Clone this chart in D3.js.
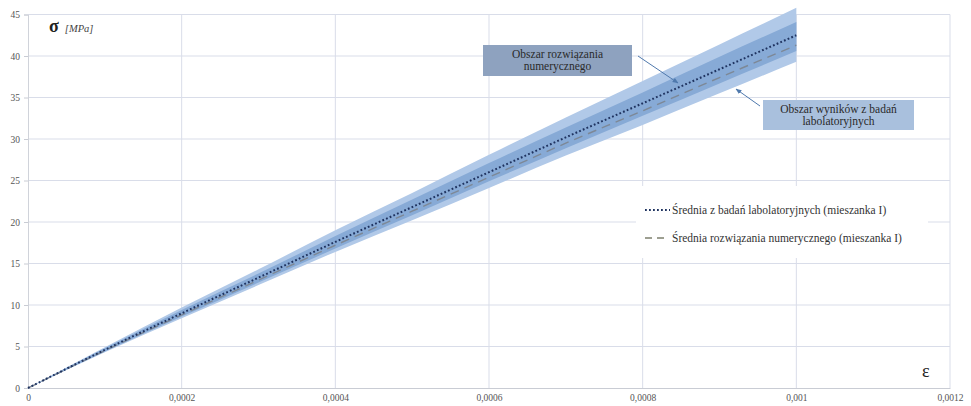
<!DOCTYPE html>
<html>
<head>
<meta charset="utf-8">
<script src="https://cdn.jsdelivr.net/npm/d3@7"></script>
<style>
  html, body { margin: 0; padding: 0; background: #fff; }
  svg { display: block; }
</style>
</head>
<body>
<svg id="chart" width="971" height="406"></svg>
<script>
// Strain values (ε) and stresses (σ, MPa)
const strain      = [0, 0.0001, 0.0002, 0.0003, 0.0004, 0.0005, 0.0006, 0.0007, 0.0008, 0.0009, 0.001];
const labMean     = [0, 4.6, 9.0, 13.3, 17.6, 21.8, 26.0, 30.2, 34.3, 38.4, 42.5];
const numMean     = [0, 4.5, 8.8, 13.0, 17.2, 21.3, 25.4, 29.5, 33.4, 37.4, 41.3];
const labUpper    = [0, 4.9, 9.7, 14.3, 19.0, 23.5, 28.1, 32.6, 37.0, 41.4, 45.8];
const labLower    = [0, 4.3, 8.4, 12.4, 16.4, 20.2, 24.1, 28.0, 31.7, 35.5, 39.3];
const numUpper    = [0, 4.8, 9.4, 13.8, 18.3, 22.7, 27.1, 31.4, 35.6, 39.9, 44.1];
const numLower    = [0, 4.4, 8.6, 12.7, 16.8, 20.8, 24.9, 28.9, 32.8, 36.7, 40.6];

const xTicks = [0, 0.0002, 0.0004, 0.0006, 0.0008, 0.001, 0.0012];
const yTicks = [0, 5, 10, 15, 20, 25, 30, 35, 40, 45];

const legendLabels = [
  "Średnia z badań labolatoryjnych (mieszanka I)",
  "Średnia rozwiązania numerycznego (mieszanka I)"
];
const noteNumeric = ["Obszar rozwiązania", "numerycznego"];
const noteLab = ["Obszar wyników z badań", "labolatoryjnych"];

const SERIF = "'Liberation Serif', 'Times New Roman', 'DejaVu Serif', serif";

const svg = d3.select("#chart").style("font-family", SERIF);
const m = { left: 28, right: 950, top: 14.5, bottom: 388 };

const x = d3.scaleLinear().domain([0, 0.0012]).range([m.left, m.right]);
const y = d3.scaleLinear().domain([0, 45]).range([m.bottom, m.top]);

const gridColor = "#d9dde9";

// grid
svg.append("g").selectAll("line.h").data(yTicks.slice(1)).join("line")
  .attr("x1", m.left).attr("x2", m.right)
  .attr("y1", d => y(d)).attr("y2", d => y(d))
  .attr("stroke", gridColor).attr("stroke-width", 1);
svg.append("g").selectAll("line.v").data(xTicks.slice(1)).join("line")
  .attr("y1", m.top).attr("y2", m.bottom)
  .attr("x1", d => x(d)).attr("x2", d => x(d))
  .attr("stroke", gridColor).attr("stroke-width", 1);

// axes
const fmtX = d => d === 0 ? "0" : String(d).replace(".", ",");
const xAxis = d3.axisBottom(x).tickValues(xTicks).tickFormat(fmtX).tickSize(0).tickPadding(6);
const yAxis = d3.axisLeft(y).tickValues(yTicks).tickSize(4).tickPadding(4);

const gx = svg.append("g").attr("transform", `translate(0,${m.bottom})`).call(xAxis)
  .attr("font-family", null).attr("font-size", null);
gx.select(".domain").attr("stroke", "#c9ccd4");
gx.selectAll("text").attr("fill", "#555").style("font-size", "9.5px").style("font-family", SERIF);

const gy = svg.append("g").attr("transform", `translate(${m.left},0)`).call(yAxis)
  .attr("font-family", null).attr("font-size", null);
gy.select(".domain").attr("stroke", "#d0d3da");
gy.selectAll(".tick line").attr("stroke", "#c9ccd4");
gy.selectAll("text").attr("fill", "#555").style("font-size", "9.5px").style("font-family", SERIF);

// bands
const rows = strain.map((e, i) => ({ e, lu: labUpper[i], ll: labLower[i], nu: numUpper[i], nl: numLower[i], lm: labMean[i], nm: numMean[i] }));
const labArea = d3.area().x(d => x(d.e)).y0(d => y(d.ll)).y1(d => y(d.lu)).curve(d3.curveMonotoneX);
const numArea = d3.area().x(d => x(d.e)).y0(d => y(d.nl)).y1(d => y(d.nu)).curve(d3.curveMonotoneX);

svg.append("path").datum(rows).attr("d", labArea).attr("fill", "#b1c9e8");
svg.append("path").datum(rows).attr("d", numArea).attr("fill", "#87aad6");

// mean lines
const line = key => d3.line().x(d => x(d.e)).y(d => y(d[key])).curve(d3.curveMonotoneX);
svg.append("path").datum(rows).attr("d", line("nm"))
  .attr("fill", "none").attr("stroke", "#7d8896").attr("stroke-width", 1.4)
  .attr("stroke-dasharray", "9,6");
svg.append("path").datum(rows).attr("d", line("lm"))
  .attr("fill", "none").attr("stroke", "#1f3360").attr("stroke-width", 2)
  .attr("stroke-dasharray", "1.8,2.2");

// annotation boxes with arrows
svg.append("defs").append("marker").attr("id", "arr")
  .attr("viewBox", "0 0 10 10").attr("refX", 9).attr("refY", 5)
  .attr("markerWidth", 6).attr("markerHeight", 6).attr("orient", "auto")
  .append("path").attr("d", "M0,1 L10,5 L0,9 Z").attr("fill", "#4f79ad");

function note(lines, bx, by, bw, bh, fill, ax1, ay1, ax2, ay2) {
  const g = svg.append("g");
  g.append("rect").attr("x", bx).attr("y", by).attr("width", bw).attr("height", bh).attr("fill", fill);
  g.selectAll("text").data(lines).join("text")
    .attr("x", bx + bw / 2).attr("y", (d, i) => by + 13 + i * 12)
    .attr("text-anchor", "middle").style("font-size", "11.5px").style("font-family", SERIF)
    .attr("fill", "#2a2a2a").text(d => d);
  g.append("line").attr("x1", ax1).attr("y1", ay1).attr("x2", ax2).attr("y2", ay2)
    .attr("stroke", "#4f79ad").attr("stroke-width", 1).attr("marker-end", "url(#arr)");
}

note(noteNumeric, 483, 45, 149, 31, "#8ea2bf", 638, 56, 678, 83);
note(noteLab, 763, 100, 151, 30, "#a9c0dd", 760, 106, 736, 89);

// legend
const lg = svg.append("g");
lg.append("rect").attr("x", 636).attr("y", 186).attr("width", 292).attr("height", 72).attr("fill", "#fff");
lg.append("line").attr("x1", 645).attr("x2", 670).attr("y1", 210).attr("y2", 210)
  .attr("stroke", "#1f3360").attr("stroke-width", 2).attr("stroke-dasharray", "1.8,2.2");
lg.append("line").attr("x1", 645).attr("x2", 668).attr("y1", 238).attr("y2", 238)
  .attr("stroke", "#7d806e").attr("stroke-width", 1.3).attr("stroke-dasharray", "7,5");
lg.selectAll("text").data(legendLabels).join("text")
  .attr("x", 672).attr("y", (d, i) => 214 + i * 28)
  .style("font-size", "11.5px").style("font-family", SERIF)
  .attr("fill", "#333").text(d => d);

// axis titles
const sig = svg.append("text").attr("x", 49).attr("y", 32).attr("fill", "#222").style("font-family", SERIF);
sig.append("tspan").style("font-size", "18px").attr("font-weight", "bold").text("σ");
sig.append("tspan").attr("dx", 6).style("font-size", "10.5px").attr("font-style", "italic").attr("fill", "#444").text("[MPa]");
svg.append("text").attr("x", 922).attr("y", 377).style("font-size", "18px").style("font-family", SERIF)
  .attr("fill", "#222").text("ε");
</script>
</body>
</html>
